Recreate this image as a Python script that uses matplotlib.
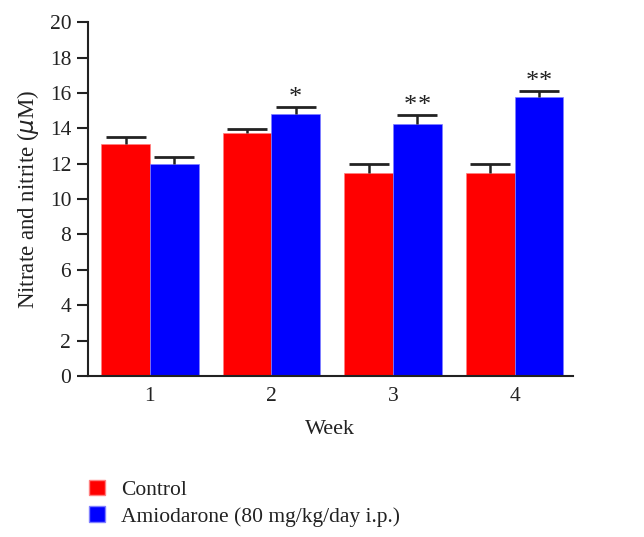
import matplotlib
matplotlib.use("Agg")
import matplotlib.pyplot as plt
import numpy as np
from matplotlib.patches import Patch

weeks = ["1", "2", "3", "4"]
control = [13.1, 13.75, 11.5, 11.5]
control_err = [0.4, 0.2, 0.5, 0.5]
amio = [12.0, 14.8, 14.25, 15.75]
amio_err = [0.4, 0.4, 0.5, 0.35]
stars = ["", "*", "**", "**"]
yticks = [0, 2, 4, 6, 8, 10, 12, 14, 16, 18, 20]

plt.rcParams['font.family'] = ['Liberation Serif', 'DejaVu Serif']
fig = plt.figure(figsize=(6.44, 5.37), dpi=100)
ax = fig.add_axes([0.1365, 0.2998, 0.753, 0.659])

x = np.arange(1, len(weeks) + 1)
w = 0.4
ink = '#222222'
ax.bar(x - w/2, control, w, color='#ff0000', edgecolor='#ff8080', linewidth=0.5,
       label='Control', zorder=2)
ax.bar(x + w/2, amio, w, color='#0000ff', edgecolor='#8080ff', linewidth=0.5,
       label='Amiodarone (80 mg/kg/day i.p.)', zorder=2)

for xs, vals, errs in [(x - w/2, control, control_err), (x + w/2, amio, amio_err)]:
    tops = np.array(vals) + np.array(errs)
    ax.vlines(xs, vals, tops, color=ink, linewidth=1.8, zorder=3)
    ax.plot(xs, tops, linestyle='none', marker='_', markersize=29,
            markeredgewidth=2.0, color=ink, zorder=3)

for xi, v, e, s in zip(x, amio, amio_err, stars):
    n = len(s)
    for k in range(n):
        dx = (k - (n - 1) / 2) * 10
        ax.annotate("*", xy=(xi + w/2, v + e), xytext=(dx, 2.2),
                    textcoords='offset points', ha='center', va='baseline',
                    fontsize=19, color=ink)

ax.set_xlim(0.49, 4.48)
ax.set_ylim(0, 20)
ax.set_yticks(yticks)
ax.set_xticks(x)
ax.set_xticklabels(weeks)
ax.tick_params(axis='y', direction='out', length=8, width=1.5, labelsize=15.5,
               colors=ink, pad=4)
ax.tick_params(axis='x', length=0, labelsize=15.5, pad=8, colors=ink)
for s in ['top', 'right']:
    ax.spines[s].set_visible(False)
for s in ['left', 'bottom']:
    ax.spines[s].set_linewidth(1.5)
    ax.spines[s].set_color(ink)

ax.set_xlabel("Week", fontsize=16, labelpad=10, color=ink)
ax.set_ylabel(r"Nitrate and nitrite ($\mu$M)", fontsize=16.5, labelpad=6, color=ink)

handles = [Patch(facecolor='#ff0000', edgecolor='#ff8080', label='Control'),
           Patch(facecolor='#0000ff', edgecolor='#8080ff', label='Amiodarone (80 mg/kg/day i.p.)')]
fig.legend(handles=handles, loc='upper left', bbox_to_anchor=(0.125, 0.123),
           frameon=False, fontsize=15.5, handlelength=0.75, handleheight=0.75,
           handletextpad=0.75, labelspacing=0.3, borderaxespad=0, labelcolor=ink)

fig.savefig("out.png", dpi=100)
